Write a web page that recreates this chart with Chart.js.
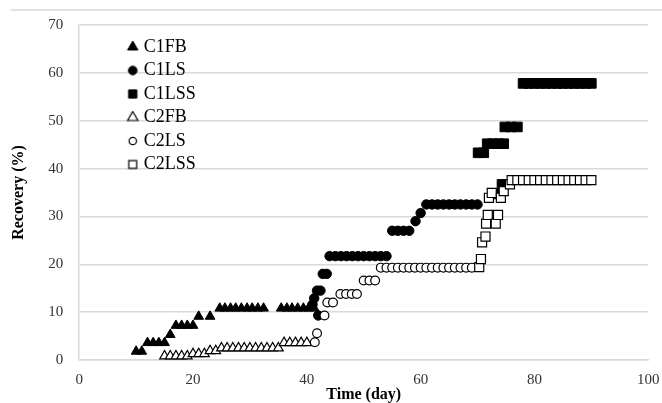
<!DOCTYPE html>
<html>
<head>
<meta charset="utf-8">
<script src="https://cdn.jsdelivr.net/npm/chart.js@4.4.1/dist/chart.umd.min.js"></script>
<style>
  html, body { margin: 0; padding: 0; background: #fff; overflow: hidden; }
  #wrap { position: relative; width: 672px; height: 403px; }
</style>
</head>
<body>
<div id="wrap"><canvas id="chart_recovery"></canvas></div>
<script>
// recovery (%) vs time (day)
var c1fbX = [10, 11, 12, 13, 14, 15, 16, 17, 18, 19, 20, 21, 23, 24.7, 25.6, 26.6, 27.5, 28.5, 29.5, 30.4, 31.4, 32.4, 35.5, 36.5, 37.4, 38.4, 39.4, 40.3, 41.3];
var c1fbY = [1.8, 1.8, 3.6, 3.6, 3.6, 3.6, 5.3, 7.2, 7.2, 7.2, 7.2, 9.1, 9.1, 10.8, 10.8, 10.8, 10.8, 10.8, 10.8, 10.8, 10.8, 10.8, 10.8, 10.8, 10.8, 10.8, 10.8, 10.8, 10.8];

var c1lsX = [41.0, 41.3, 41.8, 42.0, 42.4, 42.8, 43.5, 44, 45, 46, 47, 48, 49, 50, 51, 52, 53, 54, 55, 56, 57, 58, 59.1, 60.0, 61, 62, 63, 64, 65, 66, 67, 68, 69, 70];
var c1lsY = [11.6, 12.9, 14.5, 9.3, 14.5, 18.0, 18.0, 21.7, 21.7, 21.7, 21.7, 21.7, 21.7, 21.7, 21.7, 21.7, 21.7, 21.7, 27.0, 27.0, 27.0, 27.0, 29.0, 30.7, 32.5, 32.5, 32.5, 32.5, 32.5, 32.5, 32.5, 32.5, 32.5, 32.5];

var c1lssX = [73.6, 74.3, 70.1, 71.1, 71.7, 72.7, 73.7, 74.6, 74.8, 75.9, 77.0, 78, 79, 80, 81, 82, 83, 84, 85, 86, 87, 88, 89, 90];
var c1lssY = [34.7, 36.7, 43.3, 43.3, 45.2, 45.2, 45.2, 45.2, 48.7, 48.7, 48.7, 57.8, 57.8, 57.8, 57.8, 57.8, 57.8, 57.8, 57.8, 57.8, 57.8, 57.8, 57.8, 57.8];

var c2fbX = [15, 16, 17, 18, 19, 20, 21, 22, 23, 24, 25, 26, 27, 28, 29, 30, 31, 32, 33, 34, 35, 36, 37, 38, 39, 40];
var c2fbY = [0.8, 0.8, 0.8, 0.8, 0.8, 1.3, 1.3, 1.3, 1.9, 1.9, 2.5, 2.5, 2.5, 2.5, 2.5, 2.5, 2.5, 2.5, 2.5, 2.5, 2.5, 3.6, 3.6, 3.6, 3.6, 3.6];

var c2lsX = [41.4, 41.8, 43.1, 43.6, 44.6, 45.9, 46.9, 47.9, 48.8, 50, 51, 52, 53, 54, 55, 56, 57, 58, 59, 60, 61, 62, 63, 64, 65, 66, 67, 68, 69];
var c2lsY = [3.7, 5.6, 9.3, 12.0, 12.0, 13.8, 13.8, 13.8, 13.8, 16.6, 16.6, 16.6, 19.3, 19.3, 19.3, 19.3, 19.3, 19.3, 19.3, 19.3, 19.3, 19.3, 19.3, 19.3, 19.3, 19.3, 19.3, 19.3, 19.3];

var c2lssX = [70.3, 70.6, 70.8, 71.4, 71.5, 71.8, 73.2, 73.6, 72.0, 72.5, 74.1, 74.6, 75.7, 76, 77, 78, 79, 80, 81, 82, 83, 84, 85, 86, 87, 88, 89, 90];
var c2lssY = [19.4, 21.1, 24.6, 25.8, 28.5, 30.3, 28.5, 30.3, 33.9, 34.9, 33.9, 35.3, 36.7, 37.6, 37.6, 37.6, 37.6, 37.6, 37.6, 37.6, 37.6, 37.6, 37.6, 37.6, 37.6, 37.6, 37.6, 37.6];

var xTicks = [0, 20, 40, 60, 80, 100];
var yTicks = [0, 10, 20, 30, 40, 50, 60, 70];

function pts(xs, ys) {
    return xs.map(function (x, i) { return {x: x, y: ys[i]}; });
}

var serif = '"Liberation Serif", "Times New Roman", serif';

// small marker images for the legend, so each shape gets its own size
function legendIcon(style, radius, fill, lw) {
    var c = document.createElement('canvas');
    c.width = 14;
    c.height = 14;
    var ctx = c.getContext('2d');
    ctx.fillStyle = fill;
    ctx.strokeStyle = '#000';
    ctx.lineWidth = lw;
    Chart.helpers.drawPoint(ctx, {pointStyle: style, radius: radius, borderWidth: lw}, 7, 7);
    return c;
}
var legendIcons = [
    legendIcon('triangle', 6, '#000', 1),
    legendIcon('circle', 4.3, '#000', 1),
    legendIcon('rect', 5.8, '#000', 1),
    legendIcon('triangle', 6, '#fff', 1.2),
    legendIcon('circle', 3.7, '#fff', 1.2),
    legendIcon('rect', 5.6, '#fff', 1.2)
];

var chart_recovery = new Chart(document.getElementById('chart_recovery'), {
    type: 'scatter',
    data: {
        datasets: [
            {
                label: 'C1FB', data: pts(c1fbX, c1fbY), order: 5,
                pointStyle: 'triangle', pointRadius: 5.6,
                backgroundColor: '#000', borderColor: '#000', borderWidth: 1
            },
            {
                label: 'C1LS', data: pts(c1lsX, c1lsY), order: 4,
                pointStyle: 'circle', pointRadius: 4.7,
                backgroundColor: '#000', borderColor: '#000', borderWidth: 1
            },
            {
                label: 'C1LSS', data: pts(c1lssX, c1lssY), order: 3,
                pointStyle: 'rect', pointRadius: 6.8,
                backgroundColor: '#000', borderColor: '#000', borderWidth: 1
            },
            {
                label: 'C2FB', data: pts(c2fbX, c2fbY), order: 2,
                pointStyle: 'triangle', pointRadius: 5.6,
                backgroundColor: '#fff', borderColor: '#000', borderWidth: 1.2
            },
            {
                label: 'C2LS', data: pts(c2lsX, c2lsY), order: 1,
                pointStyle: 'circle', pointRadius: 4.4,
                backgroundColor: '#fff', borderColor: '#000', borderWidth: 1.2
            },
            {
                label: 'C2LSS', data: pts(c2lssX, c2lssY), order: 0,
                pointStyle: 'rect', pointRadius: 6.4,
                backgroundColor: '#fff', borderColor: '#000', borderWidth: 1.2
            }
        ]
    },
    options: {
        animation: false,
        responsive: true,
        maintainAspectRatio: false,
        layout: {
            padding: {top: 22, right: 21, bottom: 0, left: 9}
        },
        plugins: {
            legend: {
                position: 'chartArea',
                align: 'start',
                labels: {
                    usePointStyle: true,
                    boxWidth: 4,
                    boxHeight: 7,
                    padding: 5.5,
                    color: '#000',
                    font: {family: serif, size: 18},
                    sort: function (a, b) { return a.datasetIndex - b.datasetIndex; },
                    generateLabels: function (chart) {
                        var items = Chart.defaults.plugins.legend.labels.generateLabels(chart);
                        items.forEach(function (it) { it.pointStyle = legendIcons[it.datasetIndex]; });
                        return items;
                    }
                }
            },
            tooltip: {enabled: false}
        },
        scales: {
            x: {
                type: 'linear',
                min: 0,
                max: 100,
                afterBuildTicks: function (scale) {
                    scale.ticks = xTicks.map(function (v) { return {value: v}; });
                },
                grid: {display: false, drawTicks: false},
                border: {display: true, color: '#d9d9d9', width: 1.5},
                ticks: {
                    color: '#333',
                    padding: 12.5,
                    font: {family: serif, size: 15, lineHeight: 1}
                },
                title: {
                    display: true,
                    text: 'Time (day)',
                    color: '#000',
                    padding: {top: -13, bottom: 0},
                    font: {family: serif, size: 16, weight: 'bold', lineHeight: 1}
                }
            },
            y: {
                type: 'linear',
                min: 0,
                max: 70,
                afterBuildTicks: function (scale) {
                    scale.ticks = yTicks.map(function (v) { return {value: v}; });
                },
                grid: {color: '#d9d9d9', lineWidth: 1.5, drawTicks: false},
                border: {display: true, color: '#d9d9d9', width: 1.5},
                ticks: {
                    color: '#333',
                    padding: 16,
                    font: {family: serif, size: 15}
                },
                title: {
                    display: true,
                    text: 'Recovery (%)',
                    color: '#000',
                    padding: {top: 0, bottom: 4},
                    font: {family: serif, size: 16, weight: 'bold'}
                }
            }
        }
    },
    plugins: [{
        id: 'pageBits',
        beforeDraw: function (chart) {
            var ctx = chart.ctx;
            ctx.save();
            ctx.fillStyle = 'white';
            ctx.fillRect(0, 0, chart.width, chart.height);
            // light frame line along the top of the figure
            ctx.strokeStyle = '#d9d9d9';
            ctx.lineWidth = 1.5;
            ctx.beginPath();
            ctx.moveTo(11, 10);
            ctx.lineTo(chart.width, 10);
            ctx.stroke();
            ctx.restore();
        },
        afterLayout: function (chart) {
            // move the legend in from the top left corner of the plot
            var lg = chart.legend;
            lg.left = chart.chartArea.left + 46;
            lg.top = chart.chartArea.top + 7.5;
        }
    }]
});
</script>
</body>
</html>
